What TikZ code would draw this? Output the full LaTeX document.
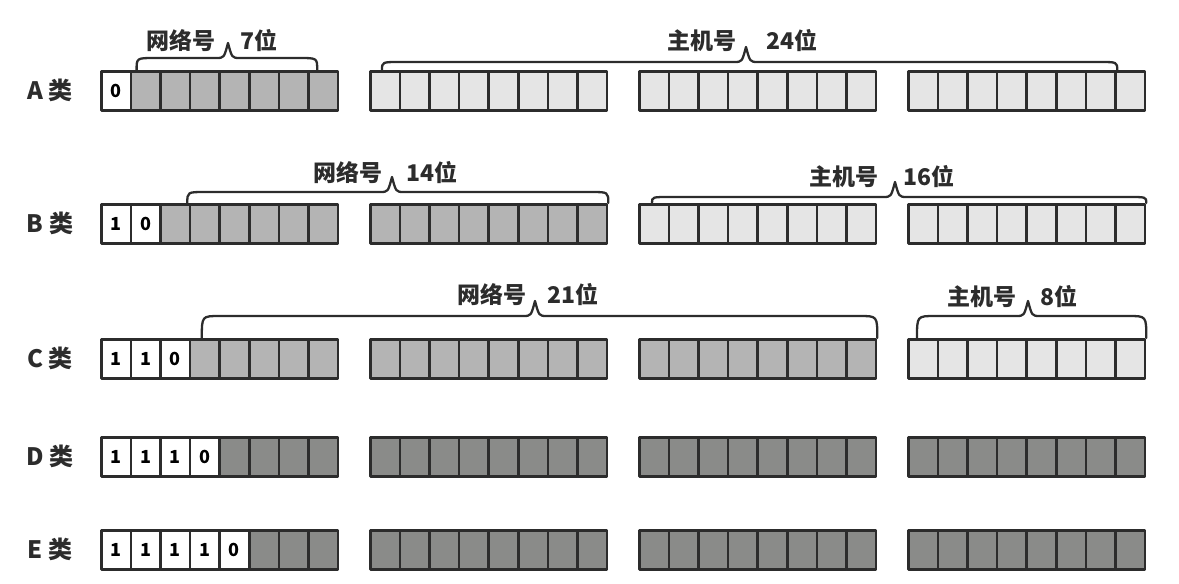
\documentclass[tikz,border=0pt]{standalone}
\usepackage{fontspec}
\newfontfamily\cjk{Noto Sans CJK SC}
\usetikzlibrary{positioning,calc}
\definecolor{netgray}{HTML}{B4B4B4}
\definecolor{hostgray}{HTML}{E5E5E5}
\definecolor{fixgray}{HTML}{8A8B89}
\definecolor{edgegray}{HTML}{2C2C2C}
\tikzset{
 bit/.style={draw=edgegray,line width=2.5pt,minimum width=29.6pt,minimum height=39pt,inner sep=0pt,anchor=north west,font=\cjk\bfseries\fontsize{18}{18}\selectfont},
 cls/.style={font=\cjk\bfseries\fontsize{24}{24}\selectfont,text=edgegray},
 lbl/.style={font=\cjk\bfseries\fontsize{23}{23}\selectfont,text=edgegray,inner sep=0pt},
 brace/.style={line width=2.3pt,draw=edgegray,line cap=round,line join=round}
}
% one address row: name, top, prefix bits, prefix length, first host bit, net fill, host fill
\newcommand\iprow[7]{%
 \foreach \d [count=\i from 0] in {#3}
   \node[bit,fill=white] (#1\i) at ({bx(\i)},#2) {\d};
 \foreach \i in {#4,...,31}{
   \ifnum\i<#5 \def\cellfill{#6}\else\def\cellfill{#7}\fi
   \node[bit,fill=\cellfill] (#1\i) at ({bx(\i)},#2) {};
 }
}
% hand drawn brace: start, end, tip
\newcommand\hbrace[3]{%
 \draw[brace] let \p1=(#1),\p2=(#2),\p3=(#3),\p4=($(#3)+(0,-15pt)$) in
  (\p1) .. controls (\x1,\y4) .. (\x1+18pt,\y4) -- (\x3-12pt,\y4)
  .. controls (\x3-4pt,\y4) .. (\p3) .. controls (\x3+4pt,\y4) .. (\x3+12pt,\y4)
  -- (\x2-18pt,\y4) .. controls (\x2,\y4) .. (\p2);
}
\begin{document}
\begin{tikzpicture}[x=1pt,y=-1pt,line join=round,
  declare function={bx(\i)=100+269*int(\i/8)+29.6*mod(\i,8);}]
 \useasboundingbox (0,0) rectangle (1179,584);
 % rows
 \node[cls] (labA) at (50,90) {A 类};
 \node[cls] (labB) at (50,223) {B 类};
 \node[cls] (labC) at (50,358) {C 类};
 \node[cls] (labD) at (50,456) {D 类};
 \node[cls] (labE) at (50,549) {E 类};
 \iprow{A}{70}{0}{1}{8}{netgray}{hostgray}
 \iprow{B}{203}{1,0}{2}{16}{netgray}{hostgray}
 \iprow{C}{338}{1,1,0}{3}{24}{netgray}{hostgray}
 \iprow{D}{436}{1,1,1,0}{4}{32}{fixgray}{fixgray}
 \iprow{E}{529}{1,1,1,1,0}{5}{32}{fixgray}{fixgray}
 % brace ends
 \coordinate (anS) at ([xshift=7pt]A1.north west);
 \coordinate (anE) at ([xshift=10pt]A7.north west);
 \coordinate (anT) at (228,43);
 \coordinate (ahS) at ([xshift=13pt]A8.north west);
 \coordinate (ahE) at ([xshift=3pt]A31.north west);
 \coordinate (ahT) at (746,47);
 \coordinate (bnS) at ([xshift=-4pt]B2.north east);
 \coordinate (bnE) at (B15.north east);
 \coordinate (bnT) at (392,177);
 \coordinate (bhS) at ([xshift=14pt]B16.north west);
 \coordinate (bhE) at (B31.north east);
 \coordinate (bhT) at (895,182);
 \coordinate (cnS) at ([xshift=13pt]C3.north west);
 \coordinate (cnE) at (C23.north east);
 \coordinate (cnT) at (535,301);
 \coordinate (chS) at ([xshift=10pt]C24.north west);
 \coordinate (chE) at (C31.north east);
 \coordinate (chT) at (1028,301);
 \hbrace{anS}{anE}{anT}
 \hbrace{ahS}{ahE}{ahT}
 \hbrace{bnS}{bnE}{bnT}
 \hbrace{bhS}{bhE}{bhT}
 \hbrace{cnS}{cnE}{cnT}
 \hbrace{chS}{chE}{chT}
 % brace labels
 \node[lbl,left=12pt] (anL) at ([yshift=2pt]anT) {网络号};
 \node[lbl,right=12pt] (anR) at ([yshift=2pt]anT) {7位};
 \node[lbl,left=9pt] (ahL) at ([yshift=6pt]ahT) {主机号};
 \node[lbl,right=20pt] (ahR) at ([yshift=6pt]ahT) {24位};
 \node[lbl,left=9pt] (bnL) at ([yshift=4pt]bnT) {网络号};
 \node[lbl,right=14pt] (bnR) at ([yshift=4pt]bnT) {14位};
 \node[lbl,left=16pt] (bhL) at ([yshift=5pt]bhT) {主机号};
 \node[lbl,right=8pt] (bhR) at ([yshift=5pt]bhT) {16位};
 \node[lbl,left=8pt] (cnL) at ([yshift=6pt]cnT) {网络号};
 \node[lbl,right=12pt] (cnR) at ([yshift=6pt]cnT) {21位};
 \node[lbl,left=11pt] (chL) at ([yshift=4pt]chT) {主机号};
 \node[lbl,right=12pt] (chR) at ([yshift=4pt]chT) {8位};
\end{tikzpicture}
\end{document}
